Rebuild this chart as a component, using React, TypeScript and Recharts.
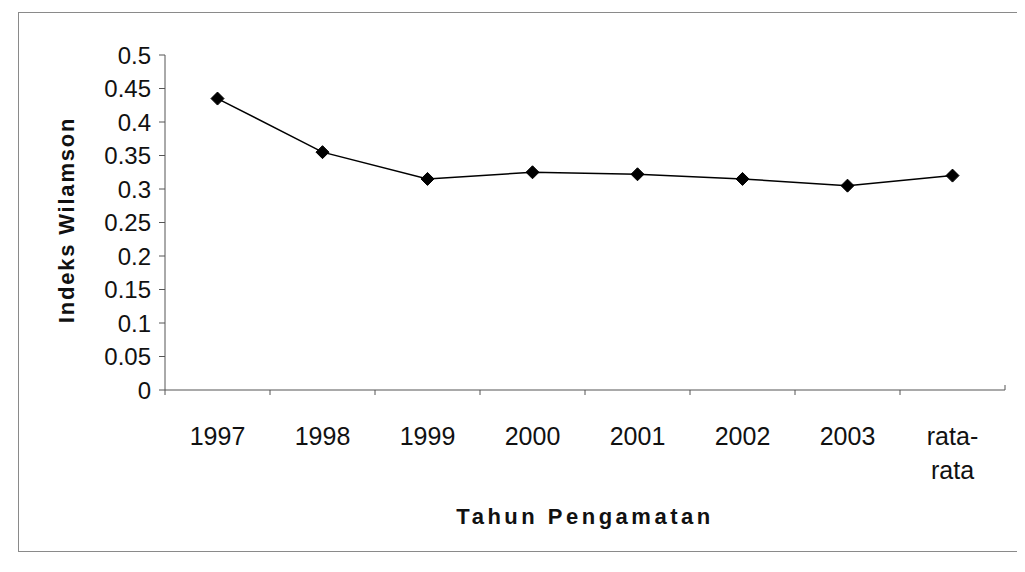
import React from "react";
import { LineChart, Line, XAxis, YAxis } from "recharts";

const years = ["1997", "1998", "1999", "2000", "2001", "2002", "2003", "rata-rata"];
const williamson = [0.435, 0.355, 0.315, 0.325, 0.322, 0.315, 0.305, 0.32];
const yTicks = [0, 0.05, 0.1, 0.15, 0.2, 0.25, 0.3, 0.35, 0.4, 0.45, 0.5];

const data = years.map((year, i) => ({ year, value: williamson[i] }));

const FONT = '"Liberation Sans", Arial, sans-serif';
const BAND = 105;

function Diamond(props: any) {
  const { cx, cy } = props;
  if (cx == null || cy == null) return null;
  const r = 6.5;
  return (
    <path
      d={`M${cx},${cy - r} L${cx + r},${cy} L${cx},${cy + r} L${cx - r},${cy} Z`}
      fill="#000"
      stroke="#000"
    />
  );
}

function YearTick(props: any) {
  const { x, y, payload, index } = props;
  const label: string = payload.value;
  const lines = label === "rata-rata" ? ["rata-", "rata"] : [label];
  return (
    <g>
      <line x1={x - BAND / 2} y1={y} x2={x - BAND / 2} y2={y + 5} stroke="#555" />
      {index === years.length - 1 && (
        <line x1={x + BAND / 2} y1={y} x2={x + BAND / 2} y2={y - 5} stroke="#555" />
      )}
      {lines.map((t, i) => (
        <text
          key={t}
          x={x}
          y={y + 55 + i * 34}
          textAnchor="middle"
          fontFamily={FONT}
          fontSize={25}
          fill="#111"
        >
          {t}
        </text>
      ))}
    </g>
  );
}

function YTitle() {
  return (
    <text
      x={66}
      y={220}
      transform="rotate(-90 66 220)"
      textAnchor="middle"
      dominantBaseline="central"
      fontFamily={FONT}
      fontSize={22}
      fontWeight="bold"
      letterSpacing={1.8}
      fill="#111"
    >
      Indeks Wilamson
    </text>
  );
}

export default function App() {
  return (
    <div style={{ position: "relative", width: 1025, height: 572, margin: -8, background: "#fff" }}>
      <div
        style={{
          position: "absolute",
          left: 18,
          top: 12,
          width: 1004,
          height: 540,
          border: "1px solid #8a8a8a",
          boxSizing: "border-box",
        }}
      />
      <LineChart
        width={1025}
        height={572}
        data={data}
        margin={{ top: 55, right: 20, bottom: 0, left: 105 }}
        style={{ position: "absolute", left: 0, top: 0 }}
      >
        <XAxis
          dataKey="year"
          height={182}
          padding={{ left: BAND / 2, right: BAND / 2 }}
          axisLine={{ stroke: "#555" }}
          tickLine={false}
          tickSize={0}
          tickMargin={0}
          interval={0}
          tick={<YearTick />}
          label={{
            value: "Tahun Pengamatan",
            position: "insideBottom",
            offset: 48,
            fontFamily: FONT,
            fontSize: 22,
            fontWeight: "bold",
            letterSpacing: 3.5,
            fill: "#111",
          }}
        />
        <YAxis
          width={60}
          domain={[0, 0.5]}
          ticks={yTicks}
          interval={0}
          axisLine={{ stroke: "#555" }}
          tickLine={{ stroke: "#555" }}
          tickSize={6}
          tickMargin={8}
          tick={{ fontFamily: FONT, fontSize: 24, fill: "#111" }}
          label={{ value: "Indeks Wilamson", content: () => <YTitle /> }}
        />
        <Line
          type="linear"
          dataKey="value"
          stroke="#000"
          strokeWidth={1.5}
          dot={<Diamond />}
          activeDot={false}
          isAnimationActive={false}
        />
      </LineChart>
    </div>
  );
}
